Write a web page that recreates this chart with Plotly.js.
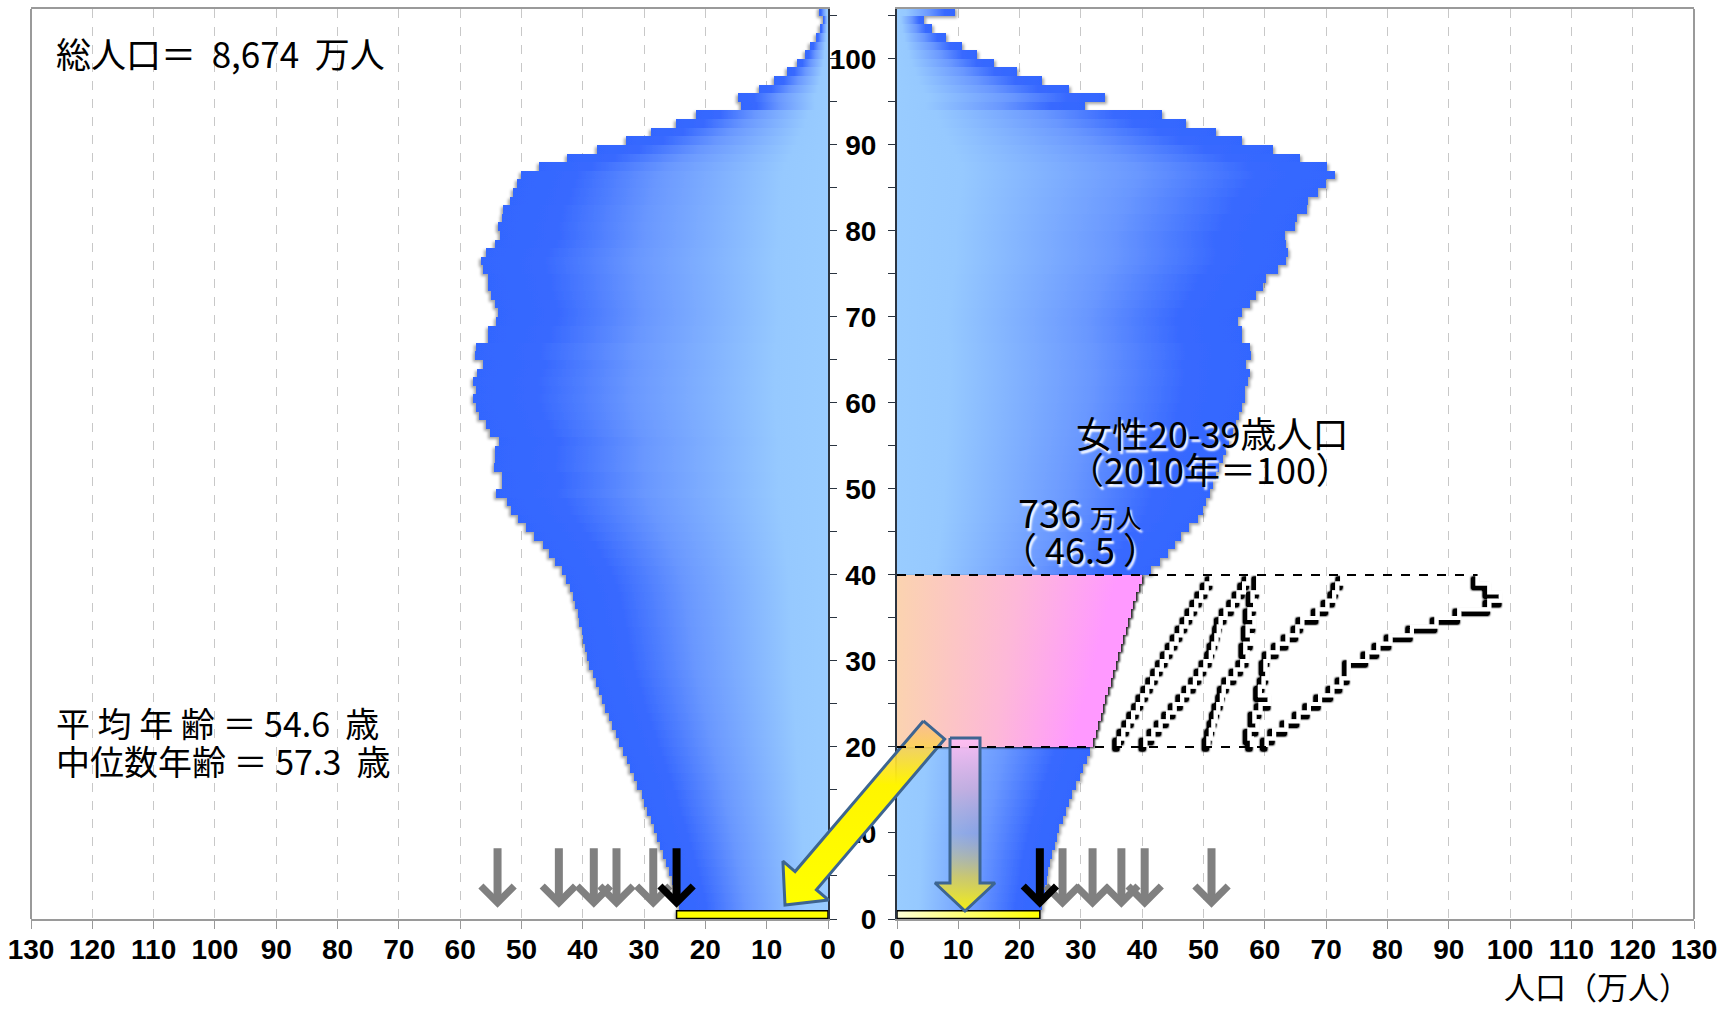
<!DOCTYPE html>
<html><head><meta charset="utf-8">
<script src="https://cdn.plot.ly/plotly-3.0.1.min.js"></script>
<style>body{margin:0;background:#fff}#chart{width:1725px;height:1009px}</style>
</head><body><div id="chart"></div>
<script>
// ---------------- DATA (万人) ----------------
// ages 0..105 (105 = 105歳以上)
const ages = Array.from({length:106}, (_, i) => i);
const male = [24.7,24.3,24.6,25.1,25.5,25.9,26.4,26.9,27.4,27.9,
  28.4,28.9,29.5,30.0,30.4,31.1,31.6,32.3,32.8,33.4,
  34.1,34.6,35.2,35.8,36.4,36.9,37.3,37.9,38.4,39.0,
  39.3,39.6,39.9,40.1,40.6,40.8,41.3,41.6,42.1,42.7,
  43.4,44.5,45.5,46.5,47.9,49.2,50.5,51.7,52.3,54.1,
  53.2,53.2,54.5,54.3,54.3,53.6,55.1,55.8,56.9,57.4,
  57.9,57.4,57.9,57.2,56.3,57.6,57.4,55.4,55.4,54.1,
  53.8,54.3,54.9,55.4,55.4,56.3,56.6,55.8,54.3,53.5,
  53.8,53.2,53.0,51.8,51.4,50.7,50.1,47.1,42.6,37.7,
  32.9,28.9,24.8,21.5,14.2,14.7,11.3,8.8,6.7,5.1,
  3.8,2.9,2.0,1.3,0.8,1.4];
const female = [23.3,23.6,23.9,24.2,24.5,24.7,24.9,25.3,25.7,26.1,
  26.5,27.0,27.5,28.0,28.6,29.2,29.9,30.4,31.0,31.5,
  32.0,32.4,32.8,33.2,33.6,34.0,34.4,34.9,35.3,35.7,
  36.1,36.5,36.9,37.3,37.7,38.1,38.5,39.0,39.4,39.9,
  41.5,42.9,44.2,45.3,46.4,47.7,49.1,49.9,50.4,51.0,
  51.5,52.1,52.6,53.1,53.7,54.2,54.8,55.3,55.8,56.2,
  56.8,56.8,57.3,57.5,57.0,57.7,57.5,56.2,56.3,55.7,
  56.3,57.6,58.6,59.7,60.2,62.2,63.5,63.8,63.4,63.3,
  64.9,65.2,66.9,67.0,68.6,70.0,71.4,70.1,65.7,61.4,
  56.3,52.1,47.2,43.2,30.7,33.9,28.1,23.6,19.5,15.9,
  13.0,10.6,8.0,5.7,4.4,9.5];

// female population aged 20..39 in earlier years (outlines)
const outlineAges = Array.from({length:20}, (_, i) => 20 + i);
const f2010 = [60.3,61.5,63.5,65.5,67.2,69.0,71.0,72.5,73.7,73.7,76.7,78.5,80.5,84.0,88.0,91.7,96.6,98.5,96.6,94.7];
const f2020 = [57.9,57.5,58.8,58.3,59.3,60.8,59.2,59.8,60.4,60.1,60.6,62.1,63.7,65.3,66.1,68.6,70.2,71.3,71.8,72.6];
const f2030 = [50.8,51.2,51.6,52.0,52.4,53.0,53.3,54.0,55.2,56.3,57.2,56.8,57.9,57.2,58.3,57.5,58.4,58.0,58.9,58.9];
const f2040 = [40.5,41.8,43.0,44.2,45.3,46.5,47.5,48.6,49.5,50.3,51.2,51.6,52.1,52.5,52.8,53.6,54.8,55.7,56.6,57.3];
const f2050 = [36.2,36.9,37.7,38.5,39.3,40.0,40.8,41.6,42.4,43.2,44.0,44.8,45.6,46.4,47.2,48.0,48.8,49.6,50.5,51.3];

// age-0 population of earlier years (arrows)
const maleBirthArrows   = [53.9, 43.9, 38.2, 34.5, 28.5];
const femaleBirthArrows = [51.3, 40.4, 36.6, 31.9, 27.0];

const xTicks = [0,10,20,30,40,50,60,70,80,90,100,110,120,130];
const ageTicks = [0,10,20,30,40,50,60,70,80,90,100];

// ---------------- LAYOUT HELPERS ----------------
const W = 1725, H = 1009, L = 31, R = 1694, T = 9, B = 919;
const px = x => (x - L) / (R - L);
const py = y => (B - y) / (B - T);

const tickFont = {family:'"Liberation Sans Narrow","Arial Narrow","Liberation Sans",sans-serif', size:28, weight:'bold', color:'#000'};
const jp = '"Noto Sans CJK JP","Noto Sans",sans-serif';
const blueDark = '#3366ff';

const isPink = a => a >= 20 && a <= 39;

const traces = [];
// 0 male bars
traces.push({type:'bar', orientation:'h', x:male, y:ages, xaxis:'x', yaxis:'y',
  offset:0, width:1, marker:{color:blueDark, line:{width:0}}, hoverinfo:'skip'});
// 1 male age 0 yellow
traces.push({type:'bar', orientation:'h', x:[male[0]], y:[ages[0]], xaxis:'x', yaxis:'y',
  offset:0.05, width:0.9, marker:{color:'#ffff00', line:{width:1.5, color:'#000'}}, hoverinfo:'skip'});
// 2 female bars (blue)
traces.push({type:'bar', orientation:'h', x:female.map((v,i)=>isPink(ages[i])?null:v), y:ages, xaxis:'x2', yaxis:'y2',
  offset:0, width:1, marker:{color:blueDark, line:{width:0}}, hoverinfo:'skip'});
// 3 female 20-39 (pink)
traces.push({type:'bar', orientation:'h', x:female.filter((v,i)=>isPink(ages[i])), y:ages.filter(isPink), xaxis:'x2', yaxis:'y2',
  offset:0, width:1, marker:{color:'#ff99ff', line:{width:0}}, hoverinfo:'skip'});
// 4 female age 0 yellow
traces.push({type:'bar', orientation:'h', x:[female[0]], y:[ages[0]], xaxis:'x2', yaxis:'y2',
  offset:0.05, width:0.9, marker:{color:'#ffff00', line:{width:1.5, color:'#000'}}, hoverinfo:'skip'});
// 5-9 outlines
[f2010, f2020, f2030, f2040, f2050].forEach(arr => {
  traces.push({type:'scatter', mode:'lines', x:arr.concat([arr[arr.length-1]]),
    y:outlineAges.concat([outlineAges[outlineAges.length-1]+1]), xaxis:'x2', yaxis:'y2',
    line:{color:'#ffffff', width:4, shape:'vh'}, hoverinfo:'skip'});
});

// block arrows (decoration, in pixel space overlay axes)
function blockArrow(tail, tip, shaftW, headW, headL){
  const dx = tip[0]-tail[0], dy = tip[1]-tail[1], len = Math.hypot(dx,dy);
  const ux = dx/len, uy = dy/len, nx = -uy, ny = ux;
  const bx = tip[0]-ux*headL, by = tip[1]-uy*headL;
  const p = [
    [tail[0]+nx*shaftW/2, tail[1]+ny*shaftW/2],
    [bx+nx*shaftW/2, by+ny*shaftW/2],
    [bx+nx*headW/2, by+ny*headW/2],
    tip,
    [bx-nx*headW/2, by-ny*headW/2],
    [bx-nx*shaftW/2, by-ny*shaftW/2],
    [tail[0]-nx*shaftW/2, tail[1]-ny*shaftW/2]
  ];
  p.push(p[0]);
  return {x:p.map(q=>q[0]), y:p.map(q=>q[1])};
}
const diag = blockArrow([934,730],[785,905],28,60,32);
traces.push({type:'scatter', mode:'lines', x:diag.x, y:diag.y, xaxis:'x3', yaxis:'y3', fill:'toself',
  fillgradient:{type:'vertical', start:720, stop:905,
    colorscale:[[0,'rgba(250,185,140,0.8)'],[0.35,'rgba(255,245,0,1)'],[1,'rgba(255,255,0,1)']]},
  line:{color:'#3d6591', width:3}, hoverinfo:'skip'});
const vert = blockArrow([965,738],[965,911],30,60,28);
traces.push({type:'scatter', mode:'lines', x:vert.x, y:vert.y, xaxis:'x3', yaxis:'y3', fill:'toself',
  fillgradient:{type:'vertical', start:738, stop:911,
    colorscale:[[0,'rgba(255,190,245,0.95)'],[0.3,'rgba(215,175,215,0.75)'],[0.55,'rgba(170,170,200,0.45)'],[0.8,'rgba(215,205,90,0.85)'],[1,'rgba(245,240,20,1)']]},
  line:{color:'#3d6591', width:3}, hoverinfo:'skip'});

// ---------------- ANNOTATIONS ----------------
const ann = [];
function txt(x, y, text, size, anchor, extra){
  ann.push(Object.assign({xref:'paper', yref:'paper', x:px(x), y:py(y), text, showarrow:false, borderpad:0,
    xanchor:anchor||'left', yanchor:'middle', font:{family:jp, size, color:'#000'}}, extra||{}));
}
txt(55, 52, '総人口＝  8,674  万人', 35);
txt(55, 722, '平 均 年 齢 ＝ 54.6  歳', 34);
txt(55, 760, '中位数年齢 ＝ 57.3  歳', 34);
const glow = sz => ({font:{family:jp, size:sz, color:'#000', shadow:'2px 3px 2px #ffffff'}});
txt(1212, 432, '女性20-39歳人口', 36, 'center', glow(36));
txt(1210, 468, '（2010年＝100）', 36, 'center', glow(36));
txt(1080, 511, '736 <span style="font-size:26px">万人</span>', 38, 'center', glow(38));
txt(1080, 548, '（ 46.5 ）', 36, 'center', glow(36));
txt(1597, 985, '人口（万人）', 31, 'center');

function arrow(xr, yr, v, color){
  ann.push({xref:xr, yref:yr, axref:xr, ayref:yr, x:v, y:1.3, ax:v, ay:8.4, text:'', showarrow:true,
    arrowhead:4, arrowsize:0.8, arrowwidth:8, arrowcolor:color, standoff:0});
}
maleBirthArrows.forEach(v => arrow('x','y',v,'#808080'));
femaleBirthArrows.forEach(v => arrow('x2','y2',v,'#808080'));
arrow('x','y',male[0],'#000000');
arrow('x2','y2',female[0],'#000000');

// ---------------- SHAPES ----------------
const shapes = [
  {type:'line', xref:'x2', yref:'y2', x0:0, x1:f2010[f2010.length-1], y0:40, y1:40, line:{color:'#000', width:2, dash:'dash'}},
  {type:'line', xref:'x2', yref:'y2', x0:0, x1:f2010[0], y0:20, y1:20, line:{color:'#000', width:2, dash:'dash'}},
  {type:'line', xref:'x domain', yref:'y domain', x0:0, x1:0, y0:0, y1:1, line:{color:'#9a9a9a', width:2}},
  {type:'line', xref:'x2 domain', yref:'y2 domain', x0:1, x1:1, y0:0, y1:1, line:{color:'#9a9a9a', width:2}}
];

const xBase = {tickvals:xTicks, ticktext:xTicks.map(String), tickfont:tickFont, showgrid:true, gridcolor:'#c8c8c8',
  griddash:'dash', gridwidth:1, zeroline:false, showline:true, linecolor:'#9a9a9a', linewidth:2, mirror:true,
  ticks:'outside', ticklen:8, tickcolor:'#9a9a9a', ticklabelstandoff:-4, fixedrange:true};
const yBase = {range:[0,105.8], showgrid:false, zeroline:false, showline:true, linecolor:'#2b3440', linewidth:2,
  ticks:'outside', ticklen:7, tickcolor:'#2b3440', tickvals:ageTicks, fixedrange:true,
  minor:{dtick:5, tick0:0, ticks:'outside', ticklen:7, tickcolor:'#2b3440', showgrid:false}};

const layout = {
  width:W, height:H, margin:{l:L, r:W-R, t:T, b:H-B}, paper_bgcolor:'#ffffff', plot_bgcolor:'rgba(0,0,0,0)',
  showlegend:false, barmode:'overlay', bargap:0, hovermode:false,
  xaxis:Object.assign({}, xBase, {domain:[0, px(828)], range:[130,0], anchor:'y'}),
  xaxis2:Object.assign({}, xBase, {domain:[px(897), 1], range:[0,130], anchor:'y2'}),
  yaxis:Object.assign({}, yBase, {anchor:'x', side:'right', showticklabels:false}),
  yaxis2:Object.assign({}, yBase, {anchor:'x2', side:'left', ticktext:ageTicks.map(String), tickfont:tickFont, ticklabelstandoff:6}),
  xaxis3:{domain:[0,1], range:[L,R], visible:false, anchor:'y3', fixedrange:true},
  yaxis3:{domain:[0,1], range:[B,T], visible:false, anchor:'x3', fixedrange:true},
  annotations:ann, shapes:shapes
};

function decorate(gd){
  const svg = gd.querySelector('.main-svg');
  const defs = svg.querySelector('defs');
  defs.insertAdjacentHTML('beforeend', `
    <linearGradient id="gBlueL" x1="1" y1="0" x2="0" y2="0">
      <stop offset="0" stop-color="#99ccff"/><stop offset="0.15" stop-color="#96c9ff"/>
      <stop offset="0.55" stop-color="#6a98ff"/><stop offset="0.82" stop-color="#3869ff"/><stop offset="1" stop-color="#3366ff"/>
    </linearGradient>
    <linearGradient id="gBlueR" x1="0" y1="0" x2="1" y2="0">
      <stop offset="0" stop-color="#99ccff"/><stop offset="0.15" stop-color="#96c9ff"/>
      <stop offset="0.55" stop-color="#6a98ff"/><stop offset="0.82" stop-color="#3869ff"/><stop offset="1" stop-color="#3366ff"/>
    </linearGradient>
    <linearGradient id="gPink" x1="0" y1="0" x2="1" y2="0">
      <stop offset="0" stop-color="#fbd3b0"/><stop offset="0.5" stop-color="#fdb8d8"/><stop offset="0.9" stop-color="#ff99ff"/><stop offset="1" stop-color="#ff99ff"/>
    </linearGradient>
    <linearGradient id="gYel" x1="0" y1="0" x2="1" y2="0">
      <stop offset="0" stop-color="#ffffd8"/><stop offset="1" stop-color="#ffff00"/>
    </linearGradient>
    <filter id="shBarL" x="-10%" y="-10%" width="120%" height="120%"><feDropShadow dx="-2" dy="2" stdDeviation="1.5" flood-color="#000" flood-opacity="0.35"/></filter>
    <filter id="shBarR" x="-10%" y="-10%" width="120%" height="120%"><feDropShadow dx="2" dy="2" stdDeviation="1.5" flood-color="#000" flood-opacity="0.35"/></filter>
    <filter id="shPink" x="-10%" y="-10%" width="120%" height="120%"><feDropShadow dx="2" dy="1" stdDeviation="1" flood-color="#000" flood-opacity="0.85"/></filter>
    <filter id="shLine" x="-20%" y="-20%" width="140%" height="140%">
      <feMorphology in="SourceAlpha" operator="dilate" radius="1.2" result="d"/>
      <feGaussianBlur in="d" stdDeviation="0.9"/>
      <feOffset dx="-3" dy="3" result="o"/>
      <feComponentTransfer in="o" result="o2"><feFuncA type="linear" slope="2.5"/></feComponentTransfer>
      <feFlood flood-color="#000"/>
      <feComposite in2="o2" operator="in" result="sh"/>
      <feMerge><feMergeNode in="sh"/><feMergeNode in="SourceGraphic"/></feMerge>
    </filter>
  `);
  const fills = {0:'url(#gBlueL)', 2:'url(#gBlueR)', 3:'url(#gPink)', 4:'url(#gYel)'};
  const filt = {0:'url(#shBarL)', 2:'url(#shBarR)', 3:'url(#shPink)'};
  gd.querySelectorAll('g.trace').forEach(g => {
    const d = g.__data__; if(!d || !d[0] || !d[0].trace) return;
    const idx = d[0].trace.index;
    if(fills[idx]) g.querySelectorAll('path').forEach(p => { if(p.closest('.point')) p.style.fill = fills[idx]; });
    if(filt[idx]) g.style.filter = filt[idx];
    if(idx >= 5 && idx <= 9) g.style.filter = 'url(#shLine)';
  });
}

Plotly.newPlot('chart', traces, layout, {staticPlot:true, displayModeBar:false}).then(decorate);
</script>
</body></html>
